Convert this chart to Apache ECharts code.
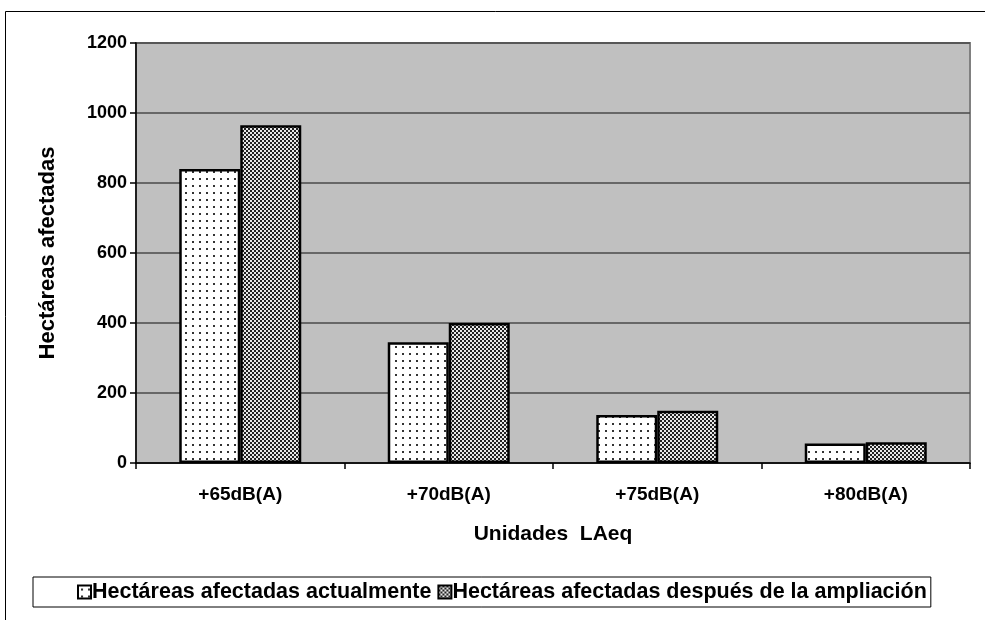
<!DOCTYPE html>
<html><head><meta charset="utf-8">
<script src="https://cdn.jsdelivr.net/npm/echarts@6/dist/echarts.min.js"></script>
<style>html,body{margin:0;padding:0;background:#fff}#c{width:985px;height:620px}</style>
</head><body><div id="c"></div>
<script>
const categories = ['+65dB(A)', '+70dB(A)', '+75dB(A)', '+80dB(A)'];
const seriesNames = ['Hectáreas afectadas actualmente', 'Hectáreas afectadas después de la ampliación'];
const actual = [840, 345, 137, 56];
const after = [965, 400, 149, 59];
const yTicks = [0, 200, 400, 600, 800, 1000, 1200];

function dotPattern() {
  const c = document.createElement('canvas'); c.width = 7; c.height = 7;
  const g = c.getContext('2d');
  g.fillStyle = '#fff'; g.fillRect(0, 0, 7, 7);
  g.fillStyle = '#333'; g.fillRect(3, 3, 2, 2);
  return c;
}
function checkPattern() {
  const c = document.createElement('canvas'); c.width = 4; c.height = 4;
  const g = c.getContext('2d');
  g.fillStyle = '#e8e8e8'; g.fillRect(0, 0, 4, 4);
  g.fillStyle = '#222'; g.fillRect(0, 0, 2, 2); g.fillRect(2, 2, 2, 2);
  return c;
}
const font = '"Liberation Sans", Arial, sans-serif';
const chart = echarts.init(document.getElementById('c'), null, {renderer: 'canvas'});
chart.setOption({
  animation: false,
  backgroundColor: '#fff',
  graphic: [{type: 'rect', shape: {x: 5.5, y: 11.5, width: 1100, height: 800}, style: {fill: 'none', stroke: '#000', lineWidth: 1}, z: -10}],
  grid: {left: 136, right: 15, top: 43, bottom: 157, show: true, backgroundColor: '#C0C0C0', borderColor: '#808080', borderWidth: 2},
  legend: {
    bottom: 13, left: 33, orient: 'horizontal',
    data: seriesNames,
    icon: 'rect', itemWidth: 13, itemHeight: 13, itemGap: 6,
    backgroundColor: '#fff', borderColor: '#000', borderWidth: 1, padding: [4, 4, 4, 44],
    textStyle: {fontFamily: font, fontSize: 21.5, fontWeight: 'bold', color: '#000', padding: [0, 0, 0, -4]}
  },
  xAxis: {
    type: 'category', data: categories,
    name: 'Unidades  LAeq', nameLocation: 'middle', nameGap: 61,
    nameTextStyle: {fontFamily: font, fontSize: 21, fontWeight: 'bold', color: '#000', verticalAlign: 'top'},
    axisLine: {lineStyle: {color: '#000', width: 1.5}},
    axisTick: {show: true, length: 6, lineStyle: {color: '#000', width: 1.5}},
    axisLabel: {fontFamily: font, fontSize: 19, fontWeight: 'bold', color: '#000', margin: 22}
  },
  yAxis: {
    type: 'value', min: 0, max: 1200, interval: 200,
    name: 'Hectáreas afectadas', nameLocation: 'middle', nameGap: 77,
    nameTextStyle: {fontFamily: font, fontSize: 22, fontWeight: 'bold', color: '#000'},
    axisLine: {show: true, lineStyle: {color: '#000', width: 1.5}},
    axisTick: {show: true, length: 6, lineStyle: {color: '#000', width: 1.5}},
    axisLabel: {fontFamily: font, fontSize: 18, fontWeight: 'bold', color: '#000', margin: 9,
      formatter: v => yTicks.includes(v) ? String(v) : ''},
    splitLine: {show: true, lineStyle: {color: '#4a4a4a', width: 1.5}}
  },
  series: [
    {name: seriesNames[0], type: 'bar', data: actual, barWidth: 61, barGap: '0%',
      itemStyle: {color: {image: dotPattern(), repeat: 'repeat'}, borderColor: '#000', borderWidth: 2.5}},
    {name: seriesNames[1], type: 'bar', data: after, barWidth: 61,
      itemStyle: {color: {image: checkPattern(), repeat: 'repeat'}, borderColor: '#000', borderWidth: 2.5}}
  ]
});
</script></body></html>
